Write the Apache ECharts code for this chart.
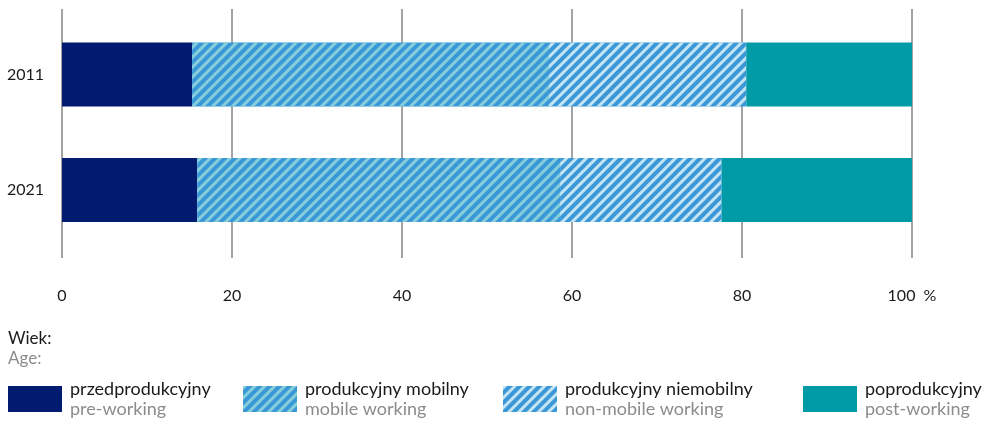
<!DOCTYPE html>
<html>
<head>
<meta charset="utf-8">
<script src="https://cdn.jsdelivr.net/npm/echarts@6/dist/echarts.min.js"></script>
<style>
html,body{margin:0;padding:0;background:#fff;}
#chart{width:989px;height:422px;}
</style>
</head>
<body>
<div id="chart"></div>
<script>
// ---- data ----
const years = ['2011', '2021'];
const seriesNamesPL = ['przedprodukcyjny', 'produkcyjny mobilny', 'produkcyjny niemobilny', 'poprodukcyjny'];
const seriesNamesEN = ['pre-working', 'mobile working', 'non-mobile working', 'post-working'];
const preWorking = [15.3, 15.9];
const mobileWorking = [42.0, 42.7];
const nonMobileWorking = [23.2, 19.0];
const postWorking = [19.5, 22.4];
const xTicks = [0, 20, 40, 60, 80, 100];
const legendTitlePL = 'Wiek:';
const legendTitleEN = 'Age:';

const FONT = 'Lato';
const chart = echarts.init(document.getElementById('chart'), null, {renderer: 'canvas'});

const colors = ['#021b71', '#3a97d8', '#3a97d8', '#009ba6'];
const decals = [
  null,
  {symbol: 'rect', color: '#86cfda', dashArrayX: [1, 0], dashArrayY: [2.5, 3.6], rotation: -Math.PI / 4},
  {symbol: 'rect', color: '#c3e4f2', dashArrayX: [1, 0], dashArrayY: [2.5, 3.6], rotation: -Math.PI / 4},
  null
];
const values = [preWorking, mobileWorking, nonMobileWorking, postWorking];
const legendLefts = [8, 243, 503, 803];

const series = values.map((v, i) => {
  const it = {color: colors[i]};
  if (decals[i]) it.decal = decals[i];
  return {
    name: seriesNamesPL[i],
    type: 'bar',
    stack: 'total',
    xAxisIndex: 0,
    yAxisIndex: 0,
    barWidth: 64,
    itemStyle: it,
    emphasis: {disabled: true},
    data: v
  };
});

const legends = seriesNamesPL.map((name, i) => ({
  left: legendLefts[i], top: 380, orient: 'horizontal', padding: 0,
  itemWidth: 54, itemHeight: 26,
  selectedMode: false,
  icon: 'rect',
  data: [name],
  formatter: n => '{a|' + n + '}\n{b|' + seriesNamesEN[seriesNamesPL.indexOf(n)] + '}',
  textStyle: {
    padding: [0, 0, 0, 3],
    rich: {
      a: {fontSize: 18, color: '#1a1a1a', lineHeight: 20, fontFamily: FONT},
      b: {fontSize: 18, color: '#8c8c8c', lineHeight: 20, fontFamily: FONT}
    }
  }
}));

chart.setOption({
  animation: false,
  textStyle: {fontFamily: FONT},
  grid: [
    {left: 62, right: 77, top: 16.75, height: 231},
    {left: 62, right: 77, top: 9, height: 249}
  ],
  xAxis: [
    {gridIndex: 0, type: 'value', min: 0, max: 100, show: false},
    {
      gridIndex: 1, type: 'value', min: 0, max: 100, interval: 20,
      axisLine: {show: false}, axisTick: {show: false},
      splitLine: {show: true, lineStyle: {color: '#858585', width: 1.5}},
      axisLabel: {
        margin: 30, color: '#1a1a1a', fontSize: 16, fontFamily: FONT,
        formatter: v => (xTicks.indexOf(v) >= 0 ? (v === 100 ? '100  %' : String(v)) : '')
      }
    }
  ],
  yAxis: [
    {
      gridIndex: 0, type: 'category', data: years, inverse: true,
      axisLine: {show: false}, axisTick: {show: false}, splitLine: {show: false},
      axisLabel: {margin: 18, color: '#1a1a1a', fontSize: 16, fontFamily: FONT}
    },
    {gridIndex: 1, type: 'value', min: 0, max: 1, show: false}
  ],
  legend: legends,
  graphic: [
    {type: 'text', left: 8, top: 330, style: {text: legendTitlePL, fontSize: 17, fill: '#1a1a1a', fontFamily: FONT}},
    {type: 'text', left: 8, top: 350, style: {text: legendTitleEN, fontSize: 17, fill: '#8c8c8c', fontFamily: FONT}}
  ],
  series: series
});
</script>
</body>
</html>
